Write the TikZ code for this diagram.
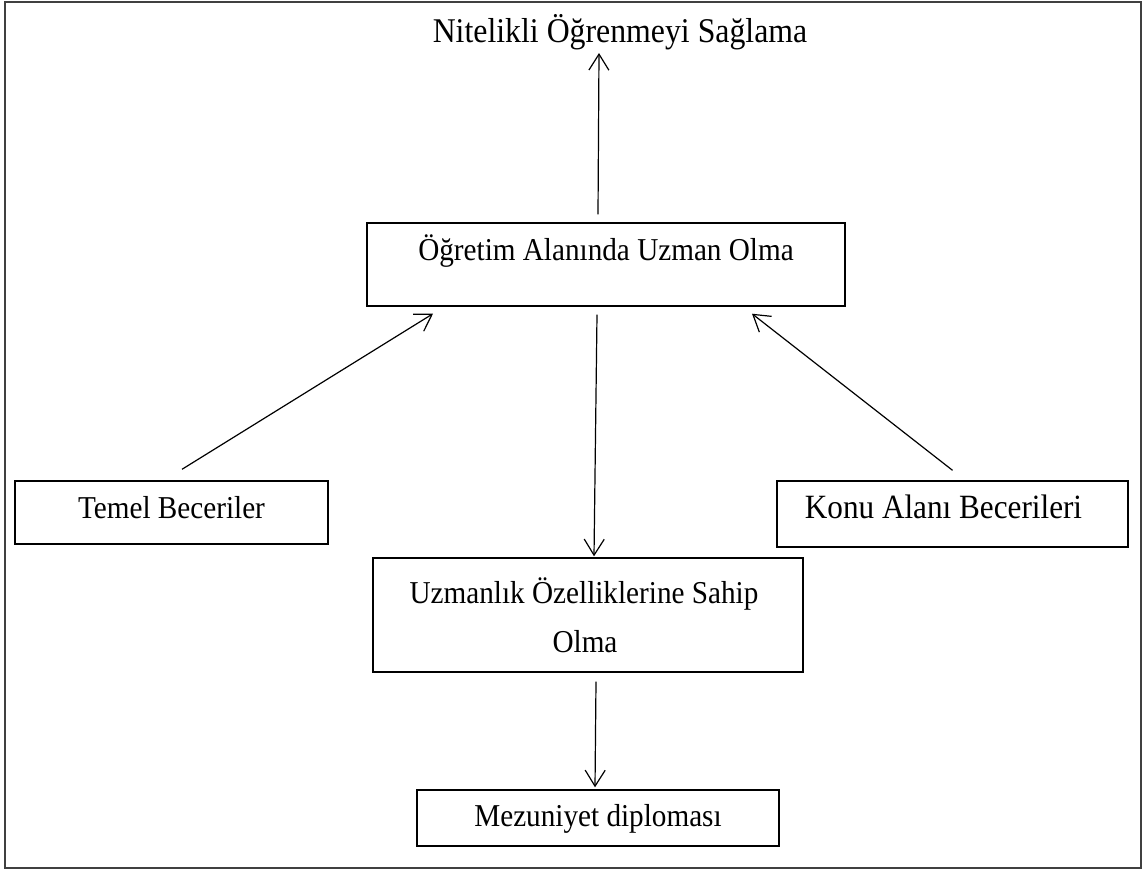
\documentclass[tikz,border=0pt]{standalone}
\usepackage{fontspec}
\setmainfont{Liberation Serif}
\usetikzlibrary{arrows.meta,calc}
\newcommand{\vstr}[1]{\scalebox{1}[1.09]{#1}}
\tikzset{
  box/.style={draw=black, line width=1.4pt, inner sep=0pt, font=\fontsize{29.2}{49}\selectfont},
  lbl/.style={inner sep=0pt, font=\fontsize{31.8}{49}\selectfont},
  arr/.style={line width=1.2pt, -{Straight Barb[length=16pt,width=20pt,line width=1.2pt]}},
  frame/.style={draw=black!75, line width=2pt}
}
\begin{document}
\begin{tikzpicture}[x=1pt,y=-1pt]
\useasboundingbox (0,0) rectangle (1143,870);
\draw[frame] (5,2) rectangle (1141,868);
\node[lbl, anchor=base] (title) at (620,42) {\vstr{Nitelikli Öğrenmeyi Sağlama}};
\node[box, anchor=base, minimum width=478pt, text height=37pt, text depth=46pt] (ogr) at (606,260) {\vstr{Öğretim Alanında Uzman Olma}};
\node[box, anchor=base, minimum width=313pt, text height=37pt, text depth=26pt] (temel) at (171.5,518) {\vstr{Temel Beceriler}};
\node[box, anchor=base, minimum width=351pt, text height=37pt, text depth=29pt, font=\fontsize{31.2}{49}\selectfont] (konu) at (952.5,518) {\vstr{Konu Alanı Becerileri}\hspace*{18pt}};
\node[box, align=center, minimum width=430pt, minimum height=114pt] (uz) at (588,615) {\vstr{Uzmanlık Özelliklerine Sahip}\hspace*{8pt}\\\vstr{Olma}\hspace*{6pt}};
\node[box, anchor=base, minimum width=362pt, text height=36pt, text depth=20pt] (mez) at (598,826) {\vstr{Mezuniyet diploması}};
\draw[arr] ([shift={(-8,-8)}]ogr.north) -- ([shift={(-21,11)}]title.base);
\draw[arr] ([shift={(10.5,-11)}]temel.north) -- ([shift={(-173,7)}]ogr.south);
\draw[arr] ([shift={(0,-10)}]konu.north) -- ([shift={(146,7)}]ogr.south);
\draw[arr] ([shift={(-9,8)}]ogr.south) -- ([shift={(6,-1)}]uz.north);
\draw[arr] ([shift={(8,9)}]uz.south) -- ([shift={(-3,-2)}]mez.north);
\end{tikzpicture}
\end{document}
